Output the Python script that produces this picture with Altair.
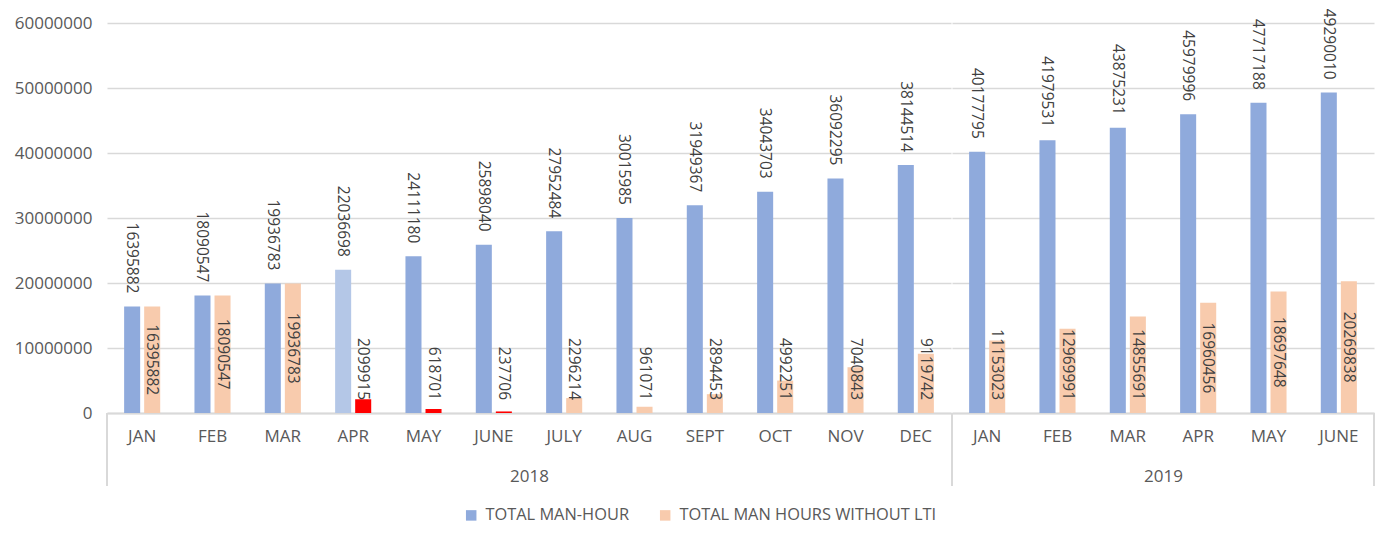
import altair as alt
import pandas as pd

# ---- data ----
months_2018 = ["JAN", "FEB", "MAR", "APR", "MAY", "JUNE", "JULY", "AUG", "SEPT", "OCT", "NOV", "DEC"]
months_2019 = ["JAN", "FEB", "MAR", "APR", "MAY", "JUNE"]
months = months_2018 + months_2019
years = ["2018"] * 12 + ["2019"] * 6

total_man_hour = [16395882, 18090547, 19936783, 22036698, 24111180, 25898040, 27952484, 30015985,
                  31949367, 34043703, 36092295, 38144514, 40177795, 41979531, 43875231, 45979996,
                  47717188, 49290010]
without_lti = [16395882, 18090547, 19936783, 2099915, 618701, 237706, 2296214, 961071,
               2894453, 4992251, 7040843, 9119742, 11153023, 12969991, 14855691, 16960456,
               18697648, 20269838]
# highlighted bars (2018 APR total lighter; 2018 APR-JUNE without-LTI in red)
total_highlight = [False, False, False, True] + [False] * 14
without_highlight = [False, False, False, True, True, True] + [False] * 12

S1 = "TOTAL MAN-HOUR"
S2 = "TOTAL MAN HOURS WITHOUT LTI"
H1 = "TOTAL MAN-HOUR (highlight)"
H2 = "TOTAL MAN HOURS WITHOUT LTI (highlight)"

rows = []
for i in range(len(months)):
    rows.append({"month": months[i], "year": years[i], "series": S1, "value": total_man_hour[i],
                 "colorkey": H1 if total_highlight[i] else S1})
    rows.append({"month": months[i], "year": years[i], "series": S2, "value": without_lti[i],
                 "colorkey": H2 if without_highlight[i] else S2})
df = pd.DataFrame(rows)

H = 390
STEP = 70.33
GRID = "#D9D9D9"
TXT = "#595959"
LBL = "#404040"
FONT = "Open Sans"
LFS = 15.5

color_scale = alt.Scale(domain=[S1, S2, H1, H2], range=["#8FAADC", "#F8CBAD", "#B4C7E7", "#FF0000"])
y_scale = alt.Scale(domain=[0, 60000000], nice=False)
y_ticks = [0, 10000000, 20000000, 30000000, 40000000, 50000000, 60000000]


def panel(year, month_list, first, last):
    W = round(STEP * len(month_list))
    base = alt.Chart(df).transform_filter(alt.datum.year == year)
    x = alt.X("month:N", sort=month_list,
              scale=alt.Scale(paddingInner=0.43, paddingOuter=0.215),
              axis=alt.Axis(title=year, labelAngle=0, ticks=False, domainColor=GRID, domainWidth=2,
                            labelFontSize=17, labelColor=TXT, labelPadding=15, labelFont=FONT,
                            titleFontSize=17, titleFontWeight="normal", titleColor=TXT, titleFont=FONT,
                            titlePadding=24))
    xo = alt.XOffset("series:N", sort=[S1, S2], scale=alt.Scale(paddingInner=0.2, paddingOuter=0.1))
    if first:
        yaxis = alt.Axis(title=None, values=y_ticks, format="d", ticks=False, domain=False,
                         labelFontSize=17, labelColor=TXT, labelFont=FONT, labelPadding=15,
                         gridColor=GRID, gridWidth=1.5)
    else:
        yaxis = alt.Axis(title=None, values=y_ticks, labels=False, ticks=False, domain=False,
                         gridColor=GRID, gridWidth=1.5)
    y = alt.Y("value:Q", scale=y_scale, axis=yaxis)

    bars = base.mark_bar().encode(
        x=x, xOffset=xo, y=y,
        color=alt.Color("colorkey:N", scale=color_scale,
                        legend=alt.Legend(title=None, orient="none", legendX=356, legendY=484,
                                          direction="horizontal", symbolType="square", symbolSize=110,
                                          symbolStrokeWidth=0, labelFontSize=16.4, labelColor=TXT,
                                          labelFont=FONT, columnPadding=27, labelOffset=6,
                                          labelLimit=0, values=[S1, S2])),
    )
    lbl_total = base.transform_filter(alt.datum.series == S1).mark_text(
        angle=90, align="right", baseline="middle", dx=-13, fontSize=LFS, color=LBL, font=FONT
    ).encode(x=x, xOffset=xo, y=alt.Y("value:Q", scale=y_scale), text=alt.Text("value:Q", format="d"))

    lbl_mid = base.transform_filter((alt.datum.series == S2) & (alt.datum.value >= 15200000)).transform_calculate(
        mid="datum.value / 2"
    ).mark_text(angle=90, align="center", baseline="middle", fontSize=LFS, color=LBL, font=FONT).encode(
        x=x, xOffset=xo, y=alt.Y("mid:Q", scale=y_scale), text=alt.Text("value:Q", format="d"))

    lbl_low = base.transform_filter((alt.datum.series == S2) & (alt.datum.value < 15200000)).mark_text(
        angle=90, align="right", baseline="middle", fontSize=LFS, color=LBL, font=FONT
    ).encode(x=x, xOffset=xo, y=alt.value(H - 13), text=alt.Text("value:Q", format="d"))

    rules_x = [0] + ([W] if last else [])
    seps = [alt.Chart(alt.Data(values=[{"k": 1}])).mark_rect(color=GRID).encode(
        x=alt.value(rx - 1), x2=alt.value(rx + 1), y=alt.value(H), y2=alt.value(H + 73)) for rx in rules_x]

    return alt.layer(bars, lbl_total, lbl_mid, lbl_low, *seps).properties(width=W, height=H)


p1 = panel("2018", months_2018, True, False)
p2 = panel("2019", months_2019, False, True)

chart = alt.hconcat(p1, p2, spacing=0).resolve_scale(
    x="independent", xOffset="independent", y="independent", color="shared"
).resolve_legend(color="shared").properties(
    padding={"left": 6, "top": 0, "right": 5, "bottom": 5}
).configure(font=FONT, background="white").configure_view(stroke=None, strokeWidth=0)

chart.save("out.html", embed_options={"renderer": "svg", "actions": False})
